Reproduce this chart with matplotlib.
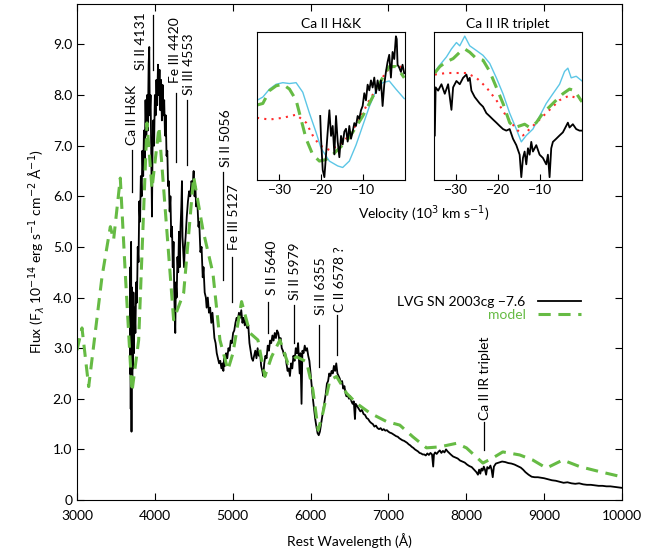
import matplotlib.pyplot as plt

plt.rcParams['font.family'] = ['Lato', 'DejaVu Sans']
plt.rcParams['mathtext.fontset'] = 'dejavusans'
plt.rcParams['font.size'] = 10

GREEN = '#66bb44'
CYAN = '#5cc6e6'
RED = '#ff2a2a'

# observed spectrum (LVG SN 2003cg -7.6)
wl_obs = [3680, 3685, 3690, 3695, 3700, 3705, 3710, 3715, 3720, 3725, 3730, 3740, 3750, 3760, 3770,
          3780, 3790, 3800, 3810, 3820, 3830, 3840, 3850, 3860, 3870, 3880, 3890, 3900, 3910, 3920,
          3928, 3935, 3945, 3955, 3963, 3970, 3980, 3990, 4000, 4010, 4020, 4030, 4040, 4050, 4060,
          4070, 4080, 4090, 4100, 4110, 4120, 4130, 4140, 4150, 4160, 4170, 4180, 4190, 4200, 4210,
          4220, 4230, 4240, 4250, 4262, 4270, 4280, 4290, 4300, 4310, 4320, 4330, 4340, 4348, 4355,
          4365, 4375, 4385, 4395, 4410, 4425, 4440, 4455, 4470, 4485, 4498, 4510, 4520, 4530, 4545,
          4560, 4570, 4585, 4600, 4615, 4625, 4640, 4655, 4665, 4680, 4695, 4710, 4725, 4740, 4750,
          4765, 4780, 4795, 4810, 4825, 4840, 4855, 4870, 4880, 4890, 4900, 4915, 4930, 4945, 4960,
          4975, 4990, 5005, 5020, 5035, 5050, 5065, 5080, 5095, 5110, 5125, 5140, 5155, 5170, 5185,
          5200, 5215, 5230, 5245, 5260, 5275, 5290, 5305, 5320, 5335, 5350, 5365, 5380, 5392, 5405,
          5420, 5435, 5450, 5465, 5480, 5495, 5510, 5525, 5540, 5555, 5570, 5585, 5600, 5615, 5630,
          5645, 5660, 5675, 5690, 5705, 5720, 5735, 5750, 5765, 5780, 5795, 5810, 5825, 5840, 5850,
          5860, 5870, 5884, 5895, 5910, 5925, 5940, 5955, 5970, 5985, 6000, 6015, 6030, 6045, 6060,
          6075, 6090, 6105, 6120, 6135, 6150, 6165, 6180, 6195, 6210, 6225, 6240, 6255, 6270, 6285,
          6300, 6315, 6330, 6345, 6360, 6375, 6390, 6405, 6420, 6435, 6450, 6460, 6480, 6495, 6510,
          6525, 6540, 6555, 6570, 6580, 6600, 6620, 6640, 6660, 6680, 6700, 6720, 6740, 6760, 6780,
          6800, 6820, 6840, 6860, 6880, 6900, 6920, 6940, 6960, 6980, 7000, 7020, 7040, 7060, 7080,
          7100, 7120, 7140, 7160, 7180, 7200, 7220, 7240, 7260, 7280, 7300, 7320, 7340, 7360, 7380,
          7400, 7420, 7440, 7460, 7480, 7500, 7520, 7540, 7560, 7575, 7585, 7600, 7620, 7640, 7660,
          7680, 7700, 7720, 7740, 7760, 7780, 7800, 7830, 7860, 7890, 7920, 7950, 7980, 8010, 8040,
          8070, 8100, 8130, 8150, 8165, 8180, 8195, 8210, 8225, 8240, 8255, 8270, 8290, 8310, 8325,
          8340, 8355, 8380, 8420, 8460, 8500, 8540, 8580, 8620, 8660, 8700, 8730, 8760, 8800, 8840,
          8880, 8920, 8960, 9000, 9050, 9100, 9150, 9200, 9250, 9300, 9350, 9400, 9450, 9500, 9550,
          9600, 9650, 9700, 9750, 9800, 9850, 9900, 9950, 10000]
fl_obs = [2.5, 4.6, 1.8, 5.1, 1.35, 4.2, 2.3, 3.6, 2.6, 4.1, 2.9, 3.8, 3.3, 4.3, 3.9,
          5.0, 4.7, 5.9, 5.5, 6.4, 6.0, 6.9, 6.4, 7.3, 6.7, 7.9, 7.2, 8.0, 7.3, 8.6,
          8.95, 7.6, 8.0, 6.6, 5.6, 6.9, 7.5, 7.0, 8.0, 7.6, 8.3, 7.8, 8.6, 8.0, 8.5,
          7.7, 8.3, 7.5, 8.2, 7.6, 7.9, 7.2, 7.6, 6.8, 6.9, 6.2, 6.3, 5.7, 6.0, 5.2,
          5.4, 4.6, 5.1, 4.0, 3.3, 4.3, 4.0, 4.8, 4.5, 5.3, 4.6, 5.4, 5.8, 6.3, 5.2,
          4.9, 4.6, 5.0, 5.2, 5.6, 5.9, 6.1, 6.0, 6.3, 6.2, 6.5, 6.0, 6.2, 5.8, 5.9,
          5.4, 5.5, 4.9, 5.0, 4.4, 4.6, 4.1, 4.0, 3.8, 4.0, 3.7, 3.8, 3.5, 3.7, 3.5,
          3.2, 3.1, 2.9, 2.8, 2.7, 2.75, 2.6, 2.7, 2.55, 2.8, 2.65, 2.9, 2.8, 3.0, 2.95,
          3.15, 3.1, 3.3, 3.35, 3.5, 3.6, 3.55, 3.7, 3.6, 3.75, 3.5, 3.6, 3.45, 3.55, 3.4,
          3.45, 3.1, 2.95, 2.8, 2.75, 2.85, 2.95, 2.8, 3.0, 2.85, 2.95, 2.65, 2.55, 2.45, 2.7,
          2.85, 2.8, 3.05, 2.95, 3.15, 3.1, 3.25, 3.15, 3.3, 3.2, 3.35, 3.3, 3.15, 3.2, 3.0,
          2.95, 2.85, 2.9, 2.7, 2.55, 2.6, 2.45, 2.7, 2.6, 2.85, 2.75, 3.0, 2.9, 3.1, 2.8,
          2.5, 2.9, 1.9, 2.95, 2.9, 3.05, 2.95, 3.0, 2.85, 2.75, 2.5, 2.25, 2.0, 1.8, 1.6,
          1.45, 1.32, 1.28, 1.35, 1.5, 1.65, 1.8, 1.95, 2.1, 2.3, 2.35, 2.5, 2.45, 2.55, 2.5,
          2.65, 2.55, 2.7, 2.5, 2.45, 2.4, 2.3, 2.35, 2.2, 2.25, 2.1, 2.05, 2.05, 2.0, 2.05,
          1.95, 1.9, 1.95, 1.6, 1.9, 1.85, 1.8, 1.75, 1.78, 1.7, 1.68, 1.62, 1.6, 1.55, 1.52,
          1.5, 1.45, 1.47, 1.42, 1.4, 1.42, 1.38, 1.4, 1.37, 1.38, 1.35, 1.33, 1.32, 1.3, 1.28,
          1.26, 1.25, 1.22, 1.2, 1.18, 1.17, 1.15, 1.13, 1.1, 1.08, 1.05, 1.03, 1.0, 0.98, 0.96,
          0.93, 0.92, 0.9, 0.9, 0.88, 0.92, 0.89, 0.93, 0.9, 0.66, 0.9, 0.94, 0.91, 0.95, 0.98,
          0.93, 0.97, 0.94, 1.0, 0.96, 0.93, 0.9, 0.86, 0.84, 0.82, 0.78, 0.76, 0.74, 0.7, 0.67,
          0.65, 0.6, 0.55, 0.5, 0.6, 0.52, 0.62, 0.58, 0.66, 0.6, 0.5, 0.65, 0.62, 0.68, 0.6,
          0.45, 0.66, 0.72, 0.74, 0.76, 0.75, 0.73, 0.72, 0.7, 0.67, 0.64, 0.6, 0.55, 0.5, 0.46,
          0.45, 0.45, 0.44, 0.43, 0.41, 0.39, 0.38, 0.36, 0.34, 0.35, 0.33, 0.32, 0.33, 0.31, 0.3,
          0.3, 0.29, 0.28, 0.28, 0.27, 0.27, 0.26, 0.25, 0.24]

# synthetic model spectrum
wl_mod = [3000, 3064, 3150, 3321, 3428, 3470, 3556, 3620, 3706, 3792, 3899, 3963, 4053, 4241,
          4370, 4498, 4617, 4746, 4836, 4938, 5003, 5114, 5221, 5324, 5413, 5499, 5606, 5709,
          5820, 5949, 6030, 6098, 6158, 6248, 6334, 6462, 6591, 6761, 6976, 7146, 7313, 7489,
          7660, 7874, 8002, 8213, 8340, 8469, 8687, 8854, 9029, 9240, 9457, 9714, 9992]
fl_mod = [2.96, 3.40, 2.24, 4.41, 5.40, 5.14, 6.36, 4.48, 2.14, 3.16, 7.45, 6.15, 7.37, 3.56,
          4.09, 6.39, 5.34, 4.48, 3.16, 2.57, 2.90, 3.92, 3.30, 3.16, 2.44, 2.83, 3.16, 2.70,
          2.83, 2.73, 2.17, 1.38, 1.72, 2.37, 2.44, 2.11, 1.91, 1.72, 1.55, 1.48, 1.25, 1.03,
          1.05, 1.12, 1.03, 0.73, 0.83, 0.95, 0.89, 0.79, 0.63, 0.79, 0.66, 0.56, 0.46]

# line identifications
id_names = ['Ca II H&K', 'Si II 4131', 'Fe III 4420', 'Si III 4553', 'Si II 5056', 'Fe III 5127',
            'S II 5640', 'Si II 5979', 'Si II 6355', 'C II 6578 ?', 'Ca II IR triplet']
id_wave = [3706, 3980, 4271, 4408, 4879, 4994, 5456, 5786, 6111, 6334, 8225]
id_lo = [6.09, 8.50, 6.68, 6.62, 4.35, 3.92, 3.29, 3.10, 2.63, 2.87, 0.99]
id_hi = [6.92, 9.58, 8.04, 7.90, 6.48, 4.81, 3.92, 3.85, 3.46, 3.66, 1.55]
id_text_x = [3700, 3828, 4258, 4442, 4910, 5020, 5500, 5800, 6140, 6376, 8238]
id_text_y = [7.02, 8.50, 8.24, 8.00, 6.58, 4.94, 4.05, 3.95, 3.66, 3.72, 1.58]

# insets: velocity (10^3 km/s) vs normalised flux
hk_obs_v = [-20.2, -20.0, -19.6, -19.2, -18.8, -18.4, -18.0, -17.6, -17.2, -16.8, -16.4, -16.0,
            -15.6, -15.2, -14.8, -14.4, -14.0, -13.6, -13.2, -12.8, -12.4, -12.0, -11.6, -11.2,
            -10.8, -10.4, -10.0, -9.6, -9.2, -8.8, -8.4, -8.0, -7.6, -7.2, -6.8, -6.4, -6.0,
            -5.6, -5.2, -4.8, -4.4, -4.0, -3.6, -3.2, -2.8, -2.4, -2.0, -1.8, -1.6, -1.2, -0.8,
            -0.4, 0.0]
hk_obs_f = [0.43, 0.27, 0.05, 0.0, 0.16, 0.32, 0.47, 0.29, 0.36, 0.16, 0.43, 0.25,
            0.14, 0.29, 0.23, 0.32, 0.34, 0.25, 0.36, 0.27, 0.32, 0.38, 0.36, 0.43,
            0.41, 0.47, 0.50, 0.59, 0.54, 0.65, 0.61, 0.68, 0.63, 0.70, 0.59, 0.68, 0.61,
            0.68, 0.50, 0.65, 0.74, 0.81, 0.86, 0.70, 0.88, 0.83, 0.99, 0.97, 0.79, 0.77, 0.74,
            0.79, 0.73]
hk_mod_v = [-35.4, -34.0, -32.4, -30.8, -29.2, -27.6, -26.0, -24.8, -23.6, -22.0, -20.4, -18.8,
            -17.2, -15.6, -14.0, -12.4, -10.0, -7.6, -5.2, -3.6, -2.0, -0.8, 0.0]
hk_mod_f = [0.507, 0.518, 0.608, 0.642, 0.653, 0.619, 0.541, 0.405, 0.27, 0.158, 0.113, 0.124,
            0.158, 0.203, 0.248, 0.315, 0.428, 0.563, 0.698, 0.777, 0.777, 0.732, 0.698]
hk_cyan_v = [-35.4, -34.0, -32.4, -30.8, -29.2, -27.6, -26.0, -24.4, -22.8, -21.2, -20.0, -18.0,
             -16.0, -14.8, -13.2, -11.6, -10.0, -8.4, -6.8, -5.2, -3.6, -2.0, 0.0]
hk_cyan_f = [0.54, 0.563, 0.619, 0.653, 0.664, 0.658, 0.664, 0.597, 0.45, 0.315, 0.203, 0.113,
             0.079, 0.068, 0.113, 0.225, 0.36, 0.495, 0.608, 0.664, 0.676, 0.619, 0.552]
hk_red_v = [-35.4, -32.4, -29.2, -26.0, -23.6, -22.0, -20.4, -18.0, -15.6, -13.2, -10.8, -8.4,
            -6.0, -4.4, -2.0, 0.0]
hk_red_f = [0.417, 0.405, 0.417, 0.439, 0.383, 0.293, 0.225, 0.191, 0.225, 0.293, 0.405, 0.541,
            0.653, 0.743, 0.788, 0.766]

ir_obs_v = [-35.2, -35.0, -34.4, -33.6, -32.8, -32.0, -31.2, -30.8, -30.0, -29.2, -28.4, -27.6,
            -27.2, -26.8, -26.4, -25.6, -24.4, -23.6, -22.8, -22.0, -21.2, -20.4, -19.6, -18.8,
            -18.0, -17.2, -16.4, -15.6, -14.8, -14.4, -14.0, -13.6, -13.2, -12.8, -12.4, -12.0,
            -11.6, -10.8, -10.0, -9.2, -8.4, -8.0, -7.6, -7.2, -6.8, -6.0, -5.2, -4.4, -3.6,
            -3.2, -2.8, -2.0, -1.2, -0.4, 0.2]
ir_obs_f = [0.293, 0.631, 0.608, 0.653, 0.586, 0.653, 0.473, 0.631, 0.676, 0.653, 0.698, 0.721,
            0.676, 0.698, 0.608, 0.563, 0.518, 0.495, 0.45, 0.428, 0.405, 0.383, 0.36, 0.338,
            0.327, 0.338, 0.27, 0.225, 0.158, 0.0, 0.135, 0.18, 0.09, 0.203, 0.158, 0.248,
            0.18, 0.225, 0.158, 0.135, 0.09, 0.158, 0.0, 0.203, 0.248, 0.27, 0.293, 0.315, 0.36,
            0.383, 0.349, 0.372, 0.338, 0.327, 0.327]
ir_mod_v = [-35.2, -34.0, -32.4, -30.8, -29.2, -28.0, -26.8, -25.2, -23.6, -22.0, -20.4, -18.8,
            -17.2, -16.0, -14.8, -13.6, -12.4, -10.8, -9.2, -7.6, -6.0, -4.4, -2.8, -1.6, 0.2]
ir_mod_f = [0.732, 0.777, 0.811, 0.833, 0.878, 0.901, 0.878, 0.833, 0.822, 0.743, 0.631, 0.518,
            0.383, 0.349, 0.36, 0.372, 0.349, 0.383, 0.45, 0.495, 0.541, 0.586, 0.619, 0.608, 0.529]
ir_cyan_v = [-35.2, -34.0, -32.4, -31.2, -30.0, -29.2, -28.0, -26.8, -25.2, -23.6, -22.0, -20.4,
             -18.8, -17.2, -15.6, -14.4, -13.2, -11.6, -10.0, -8.4, -6.8, -5.2, -4.0, -3.2, -2.4,
             -1.2, 0.2]
ir_cyan_f = [0.743, 0.788, 0.845, 0.901, 0.946, 0.923, 0.991, 0.923, 0.89, 0.856, 0.80, 0.698,
             0.586, 0.45, 0.338, 0.248, 0.293, 0.338, 0.428, 0.518, 0.586, 0.653, 0.743, 0.766,
             0.698, 0.709, 0.676]
ir_red_v = [-35.2, -32.4, -30.0, -27.6, -25.2, -22.8, -20.4, -18.0, -15.6, -14.0, -12.4, -10.0,
            -7.6, -5.2, -2.8, 0.2]
ir_red_f = [0.721, 0.732, 0.732, 0.732, 0.698, 0.631, 0.541, 0.428, 0.338, 0.293, 0.338, 0.405,
            0.473, 0.541, 0.574, 0.541]

fig = plt.figure(figsize=(6.65, 5.52), dpi=100)
ax = fig.add_axes([0.1158, 0.0942, 0.8195, 0.8986])

ax.plot(wl_obs, fl_obs, color='black', lw=1.3, label='LVG SN 2003cg \u22127.6')
ax.plot(wl_mod, fl_mod, color=GREEN, lw=2.2, ls=(0, (4, 2.5)), label='model')

for name, w, lo, hi, tx, ty in zip(id_names, id_wave, id_lo, id_hi, id_text_x, id_text_y):
    ax.plot([w, w], [lo, hi], color='black', lw=0.9)
    ax.text(tx, ty, name, rotation=90, ha='center', va='bottom', fontsize=10)

ax.set_xlim(3000, 10000)
ax.set_ylim(0, 9.8)
ax.set_xticks(range(3000, 10001, 1000))
ax.set_yticks([0, 1, 2, 3, 4, 5, 6, 7, 8, 9])
ax.set_yticklabels(['0', '1.0', '2.0', '3.0', '4.0', '5.0', '6.0', '7.0', '8.0', '9.0'])
ax.tick_params(direction='in', top=True, right=True, length=5, labelsize=10)
ax.tick_params(axis='x', pad=7)
ax.set_xlabel('Rest Wavelength (Å)', fontsize=10, labelpad=8)
ax.set_ylabel(r'Flux (F$_{\lambda}$ 10$^{-14}$ erg s$^{-1}$ cm$^{-2}$ Å$^{-1}$)', fontsize=10)

ax.legend(loc='upper right', bbox_to_anchor=(0.9376, 0.425), markerfirst=False, frameon=False,
          handlelength=3.1, handletextpad=0.9, labelspacing=0.05, borderpad=0,
          labelcolor=['black', GREEN], fontsize=10)

insets = [
    ([0.3865, 0.6739, 0.2226, 0.2681], 'Ca II H&K',
     (hk_cyan_v, hk_cyan_f), (hk_red_v, hk_red_f), (hk_mod_v, hk_mod_f), (hk_obs_v, hk_obs_f)),
    ([0.6526, 0.6739, 0.2226, 0.2681], 'Ca II IR triplet',
     (ir_cyan_v, ir_cyan_f), (ir_red_v, ir_red_f), (ir_mod_v, ir_mod_f), (ir_obs_v, ir_obs_f)),
]
for rect, title, cyan, red, mod, obs in insets:
    ins = fig.add_axes(rect)
    ins.plot(*cyan, color=CYAN, lw=1.0)
    ins.plot(*red, color=RED, lw=1.5, ls=(0, (1, 2.5)))
    ins.plot(*mod, color=GREEN, lw=2.2, ls=(0, (4, 2.5)))
    ins.plot(*obs, color='black', lw=1.3)
    ins.set_xlim(-35.4, 0.2)
    ins.set_ylim(-0.02, 1.02)
    ins.set_xticks([-30, -20, -10])
    ins.set_xticklabels(['\u221230', '\u221220', '\u221210'])
    ins.set_yticks([])
    ins.tick_params(direction='in', length=4, labelsize=10, pad=3)
    ins.set_title(title, fontsize=10, pad=3)

fig.text(0.637, 0.612, r'Velocity (10$^{3}$ km s$^{-1}$)', ha='center', va='center', fontsize=10)

fig.savefig('out.png', dpi=100)
